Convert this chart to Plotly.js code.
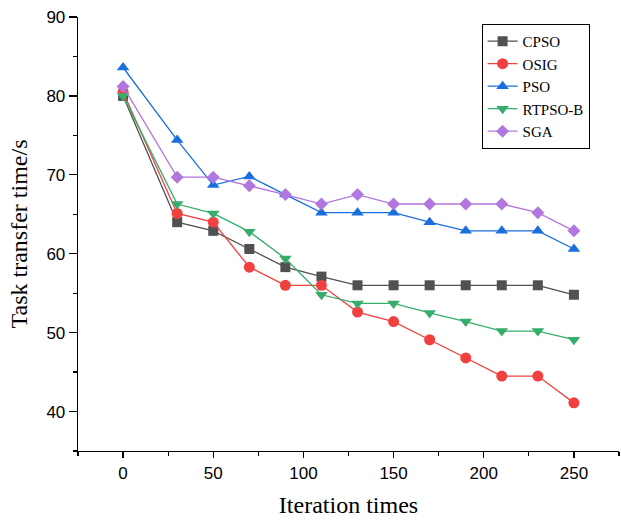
<!DOCTYPE html>
<html>
<head>
<meta charset="utf-8">
<script src="https://cdn.plot.ly/plotly-3.0.1.min.js"></script>
<style>html,body{margin:0;padding:0;background:#fff}#chart{width:621px;height:521px}</style>
</head>
<body>
<div id="chart"></div>
<script>
const iterations = [0, 30, 50, 70, 90, 110, 130, 150, 170, 190, 210, 230, 250];
const seriesNames = ["CPSO", "OSIG", "PSO", "RTPSO-B", "SGA"];
const cpso   = [80.0, 64.0, 62.9, 60.6, 58.3, 57.1, 56.0, 56.0, 56.0, 56.0, 56.0, 56.0, 54.8];
const osig   = [80.5, 65.1, 64.0, 58.3, 56.0, 56.0, 52.6, 51.4, 49.1, 46.8, 44.5, 44.5, 41.1];
const pso    = [83.6, 74.4, 68.7, 69.8, 67.5, 65.2, 65.2, 65.2, 64.0, 62.9, 62.9, 62.9, 60.6];
const rtpsob = [80.0, 66.3, 65.1, 62.8, 59.4, 54.8, 53.7, 53.7, 52.5, 51.4, 50.2, 50.2, 49.1];
const sga    = [81.2, 69.7, 69.7, 68.6, 67.5, 66.3, 67.5, 66.3, 66.3, 66.3, 66.3, 65.2, 62.9];
const xTickVals = [0, 50, 100, 150, 200, 250];
const yTickVals = [40, 50, 60, 70, 80, 90];

const values = [cpso, osig, pso, rtpsob, sga];
const colors = ["#515151", "#F14040", "#1A6FDF", "#37AD6B", "#B177DE"];
const symbols = ["square", "circle", "triangle-up", "triangle-down", "diamond"];
const sizes = [10, 11, 11, 11, 10];

const traces = seriesNames.map((name, i) => ({
  type: "scatter",
  mode: "lines+markers",
  name: name,
  x: iterations,
  y: values[i],
  line: {color: colors[i], width: 1.3},
  marker: {color: colors[i], symbol: symbols[i], size: sizes[i], line: {width: 0}}
}));

const layout = {
  width: 621, height: 521,
  margin: {l: 78, r: 2, t: 17, b: 70},
  paper_bgcolor: "#fff", plot_bgcolor: "#fff",
  showlegend: true,
  legend: {
    x: 0.746, y: 0.984, xanchor: "left", yanchor: "top",
    bordercolor: "#000", borderwidth: 1, bgcolor: "#fff",
    font: {family: "Liberation Serif", size: 15, color: "#000"},
    tracegroupgap: 0, itemwidth: 30
  },
  xaxis: {
    range: [-25, 275],
    tickvals: xTickVals,
    ticks: "outside", ticklen: 6, tickwidth: 1.2, tickcolor: "#000",
    minor: {dtick: 25, tick0: 0, ticks: "outside", ticklen: 4, tickwidth: 1.2, tickcolor: "#000"},
    showline: true, linecolor: "#000", linewidth: 1.3,
    showgrid: false, zeroline: false,
    tickfont: {family: "Liberation Sans", size: 17, color: "#000"},
    title: {text: "Iteration times", font: {family: "Liberation Serif", size: 24, color: "#000"}, standoff: 14}
  },
  yaxis: {
    range: [35, 90],
    tickvals: yTickVals,
    ticks: "outside", ticklen: 8, tickwidth: 1.2, tickcolor: "#000",
    minor: {dtick: 5, tick0: 0, ticks: "outside", ticklen: 4, tickwidth: 1.2, tickcolor: "#000"},
    showline: true, linecolor: "#000", linewidth: 1.3,
    showgrid: false, zeroline: false,
    tickfont: {family: "Liberation Sans", size: 17, color: "#000"},
    title: {text: "Task transfer time/s", font: {family: "Liberation Serif", size: 24, color: "#000"}, standoff: 12}
  }
};

Plotly.newPlot("chart", traces, layout, {displayModeBar: false, staticPlot: true});
</script>
</body>
</html>
